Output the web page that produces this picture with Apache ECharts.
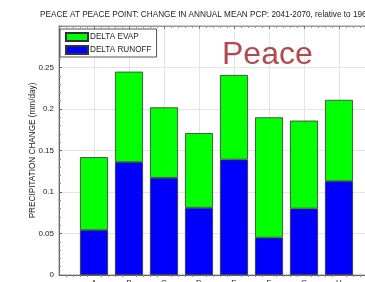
<!DOCTYPE html>
<html>
<head>
<meta charset="utf-8">
<script src="https://cdn.jsdelivr.net/npm/echarts@6/dist/echarts.min.js"></script>
<style>
  html, body { margin: 0; padding: 0; background: #fff; overflow: hidden; }
  #chart { width: 365px; height: 282px; }
</style>
</head>
<body>
<div id="chart"></div>
<script>
// stations along the river (mm/day)
var categories = ["A", "B", "C", "D", "E", "F", "G", "H"];
var runoff = [0.054, 0.136, 0.117, 0.081, 0.139, 0.045, 0.080, 0.113];
var evap = [0.088, 0.109, 0.085, 0.090, 0.102, 0.145, 0.106, 0.098];
var yTicks = [0, 0.05, 0.1, 0.15, 0.2, 0.25];

// empty slot on each side so the bars sit half a gap in from the frame
var axisCats = [""].concat(categories, [""]);
function pad(vals) { return ["-"].concat(vals, ["-"]); }

var font = "Liberation Sans, Arial, sans-serif";
var chart = echarts.init(document.getElementById("chart"));

var minorAxis = {
  type: "value",
  min: 0,
  max: 9,
  interval: 1,
  axisLine: { show: false },
  axisTick: { show: false },
  minorTick: { show: true, splitNumber: 5, length: 2, lineStyle: { color: "#888" } },
  splitLine: { show: false },
  axisLabel: { show: false }
};

var option = {
  animation: false,
  title: {
    text: "PEACE AT PEACE POINT: CHANGE IN ANNUAL MEAN PCP: 2041-2070, relative to 1961-1990",
    left: 40,
    top: 11,
    padding: 0,
    textStyle: { fontFamily: font, fontSize: 8.2, fontWeight: "normal", color: "#222" }
  },
  legend: {
    orient: "vertical",
    left: 60,
    top: 29,
    padding: [3, 5, 2, 5],
    itemWidth: 22,
    itemHeight: 8,
    itemGap: 3,
    borderColor: "#555",
    borderWidth: 1,
    backgroundColor: "#fff",
    icon: "rect",
    textStyle: { fontFamily: font, fontSize: 8.2, color: "#222", padding: [0, 0, 0, -3] },
    data: ["DELTA EVAP", "DELTA RUNOFF"]
  },
  // the plot runs past the right edge of the window, like the cropped original
  grid: {
    left: 59, top: 26, width: 315, height: 249,
    outerBoundsMode: "none",
    show: true, borderColor: "#999", borderWidth: 1
  },
  xAxis: [{
    type: "category",
    data: axisCats,
    boundaryGap: false,
    position: "bottom",
    axisLine: { lineStyle: { color: "#666" } },
    axisTick: { inside: true, length: 3, lineStyle: { color: "#666" } },
    splitLine: { show: true, lineStyle: { color: "#e4e4e4" } },
    axisLabel: { fontFamily: font, fontSize: 8, color: "#222", margin: 4, interval: 0 }
  }, Object.assign({ position: "bottom" }, minorAxis), Object.assign({}, minorAxis, {
    position: "top",
    axisLine: { show: true, lineStyle: { color: "#999" } },
    axisTick: { show: true, inside: true, length: 3, lineStyle: { color: "#777" } },
    minorTick: { show: true, splitNumber: 5, length: 2, lineStyle: { color: "#999" } }
  })],
  yAxis: {
    type: "value",
    min: 0,
    max: 0.3,
    interval: 0.05,
    name: "PRECIPITATION CHANGE (mm/day)",
    nameLocation: "middle",
    nameGap: 22,
    nameMoveOverlap: false,
    nameTextStyle: { fontFamily: font, fontSize: 8.2, color: "#222" },
    axisLine: { show: true, lineStyle: { color: "#666" } },
    axisTick: { inside: true, length: 3, lineStyle: { color: "#666" } },
    minorTick: { show: true, splitNumber: 5, length: 2, lineStyle: { color: "#888" } },
    splitLine: { show: true, lineStyle: { color: "#e4e4e4" } },
    axisLabel: {
      fontFamily: font, fontSize: 8, color: "#222", margin: 5,
      formatter: function (v) {
        for (var i = 0; i < yTicks.length; i++) {
          if (Math.abs(yTicks[i] - v) < 1e-9) return String(yTicks[i]);
        }
        return "";
      }
    }
  },
  graphic: [{
    type: "text",
    left: 222,
    top: 39,
    style: { text: "Peace", fontFamily: font, fontSize: 32, fill: "#b5484c" },
    z: 10
  }],
  series: [{
    name: "DELTA RUNOFF",
    type: "bar",
    stack: "p",
    barWidth: 28,
    data: pad(runoff),
    itemStyle: { color: "#0000ff", borderColor: "#333", borderWidth: 0.8 }
  }, {
    name: "DELTA EVAP",
    type: "bar",
    stack: "p",
    barWidth: 28,
    data: pad(evap),
    itemStyle: { color: "#00ff00", borderColor: "#333", borderWidth: 0.8 }
  }]
};

chart.setOption(option);
</script>
</body>
</html>
